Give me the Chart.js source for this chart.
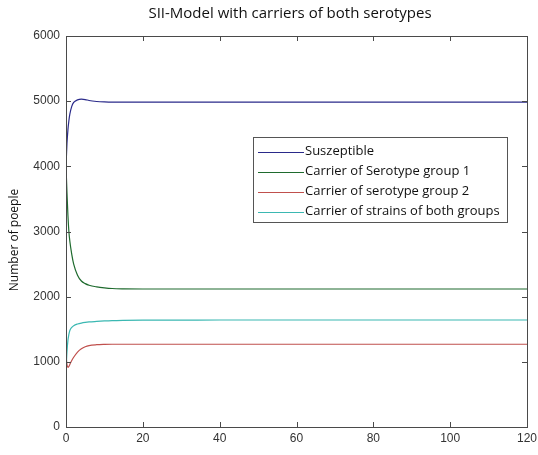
<!DOCTYPE html>
<html>
<head>
<meta charset="utf-8">
<script src="https://cdn.jsdelivr.net/npm/chart.js@4"></script>
<style>
  html, body { margin: 0; padding: 0; background: #fff; }
  #wrap { width: 538px; height: 455px; }
</style>
</head>
<body>
<div id="wrap"><canvas id="c" width="538" height="455"></canvas></div>
<script>
'use strict';

const TITLE = 'SII-Model with carriers of both serotypes';
const Y_TITLE = 'Number of poeple';

// time points (x) and population per compartment
const times = [0, 0.25, 0.5, 0.75, 1, 1.5, 2, 3, 4, 5, 6, 8, 10, 12, 15, 20, 30, 40, 60, 80, 100, 120];
const susceptible = [4000, 4350, 4560, 4700, 4800, 4920, 4980, 5020, 5030, 5025, 5010, 4995, 4988, 4985, 4985, 4985, 4985, 4985, 4985, 4985, 4985, 4985];
const carrierG1 = [4000, 3600, 3250, 3000, 2850, 2650, 2500, 2330, 2240, 2200, 2175, 2150, 2135, 2125, 2120, 2118, 2118, 2118, 2118, 2118, 2118, 2118];
const carrierG2 = [1100, 960, 915, 930, 960, 1020, 1070, 1150, 1200, 1232, 1250, 1263, 1268, 1270, 1270, 1270, 1270, 1270, 1270, 1270, 1270, 1270];
const carrierBoth = [850, 1150, 1330, 1420, 1480, 1530, 1555, 1580, 1595, 1605, 1612, 1620, 1627, 1632, 1636, 1640, 1641, 1642, 1642, 1642, 1642, 1642];

const xTicks = [0, 20, 40, 60, 80, 100, 120];
const yTicks = [0, 1000, 2000, 3000, 4000, 5000, 6000];

const SERIES = [
  { label: 'Suszeptible', values: susceptible, color: '#2a2a8a' },
  { label: 'Carrier of Serotype group 1', values: carrierG1, color: '#1f6b2e' },
  { label: 'Carrier of serotype group 2', values: carrierG2, color: '#c0504d' },
  { label: 'Carrier of strains of both groups', values: carrierBoth, color: '#3bb8b2' }
];

const TEXT_FONT = '"Open Sans", "Noto Sans", sans-serif';
const TICK_FONT = '"Liberation Sans", Arial, sans-serif';

// frame, inward ticks, title, y title and legend box (MATLAB look)
const matlabFrame = {
  id: 'matlabFrame',
  afterDraw(chart) {
    const { ctx, chartArea: a, scales } = chart;
    ctx.save();
    ctx.strokeStyle = '#4a4a4a';
    ctx.lineWidth = 1;
    ctx.strokeRect(Math.round(a.left) + 0.5, Math.round(a.top) + 0.5,
      Math.round(a.right - a.left), Math.round(a.bottom - a.top));

    ctx.beginPath();
    xTicks.forEach(v => {
      const x = Math.round(scales.x.getPixelForValue(v)) + 0.5;
      ctx.moveTo(x, a.bottom); ctx.lineTo(x, a.bottom - 5);
      ctx.moveTo(x, a.top); ctx.lineTo(x, a.top + 5);
    });
    yTicks.forEach(v => {
      const y = Math.round(scales.y.getPixelForValue(v)) + 0.5;
      ctx.moveTo(a.left, y); ctx.lineTo(a.left + 5, y);
      ctx.moveTo(a.right, y); ctx.lineTo(a.right - 5, y);
    });
    ctx.stroke();

    // title
    ctx.fillStyle = '#111';
    ctx.font = '15px ' + TEXT_FONT;
    ctx.textAlign = 'center';
    ctx.textBaseline = 'middle';
    ctx.fillText(TITLE, 290, 14);

    // y axis title
    ctx.save();
    ctx.translate(15, 240);
    ctx.rotate(-Math.PI / 2);
    ctx.font = '12px ' + TEXT_FONT;
    ctx.fillText(Y_TITLE, 0, 0);
    ctx.restore();

    // legend
    const lx = 253, ly = 137, lw = 254, lh = 85;
    ctx.fillStyle = '#fff';
    ctx.fillRect(lx, ly, lw, lh);
    ctx.strokeStyle = '#555';
    ctx.strokeRect(lx + 0.5, ly + 0.5, lw, lh);
    ctx.font = '13px ' + TEXT_FONT;
    ctx.textAlign = 'left';
    SERIES.forEach((s, i) => {
      const y = ly + 14.5 + i * 20;
      ctx.strokeStyle = s.color;
      ctx.lineWidth = 1.2;
      ctx.beginPath();
      ctx.moveTo(258, Math.round(y) + 0.5);
      ctx.lineTo(304, Math.round(y) + 0.5);
      ctx.stroke();
      ctx.fillStyle = '#111';
      ctx.fillText(s.label, 305, y);
    });
    ctx.restore();
  }
};

new Chart(document.getElementById('c'), {
  type: 'line',
  data: {
    datasets: SERIES.map(s => ({
      label: s.label,
      data: times.map((t, i) => ({ x: t, y: s.values[i] })),
      borderColor: s.color,
      borderWidth: 1.2,
      pointRadius: 0,
      fill: false,
      cubicInterpolationMode: 'monotone'
    }))
  },
  options: {
    responsive: false,
    animation: false,
    events: [],
    layout: { padding: { top: 36, right: 11, left: 0, bottom: 0 } },
    plugins: {
      legend: { display: false },
      tooltip: { enabled: false },
      title: { display: false }
    },
    scales: {
      x: {
        type: 'linear',
        min: 0,
        max: 120,
        afterBuildTicks: sc => { sc.ticks = xTicks.map(v => ({ value: v })); },
        afterFit: sc => { sc.height = 28; sc.paddingLeft = 0; sc.paddingRight = 0; },
        grid: { display: false, drawTicks: false },
        border: { display: false },
        ticks: {
          color: '#333',
          padding: 4,
          maxRotation: 0,
          callback: v => String(v),
          font: { family: TICK_FONT, size: 12 }
        }
      },
      y: {
        min: 0,
        max: 6000,
        afterBuildTicks: sc => { sc.ticks = yTicks.map(v => ({ value: v })); },
        afterFit: sc => { sc.width = 66; sc.paddingTop = 0; sc.paddingBottom = 0; },
        grid: { display: false, drawTicks: false },
        border: { display: false },
        ticks: {
          color: '#333',
          padding: 6,
          callback: v => String(v),
          font: { family: TICK_FONT, size: 12 }
        }
      }
    }
  },
  plugins: [matlabFrame]
});
</script>
</body>
</html>
